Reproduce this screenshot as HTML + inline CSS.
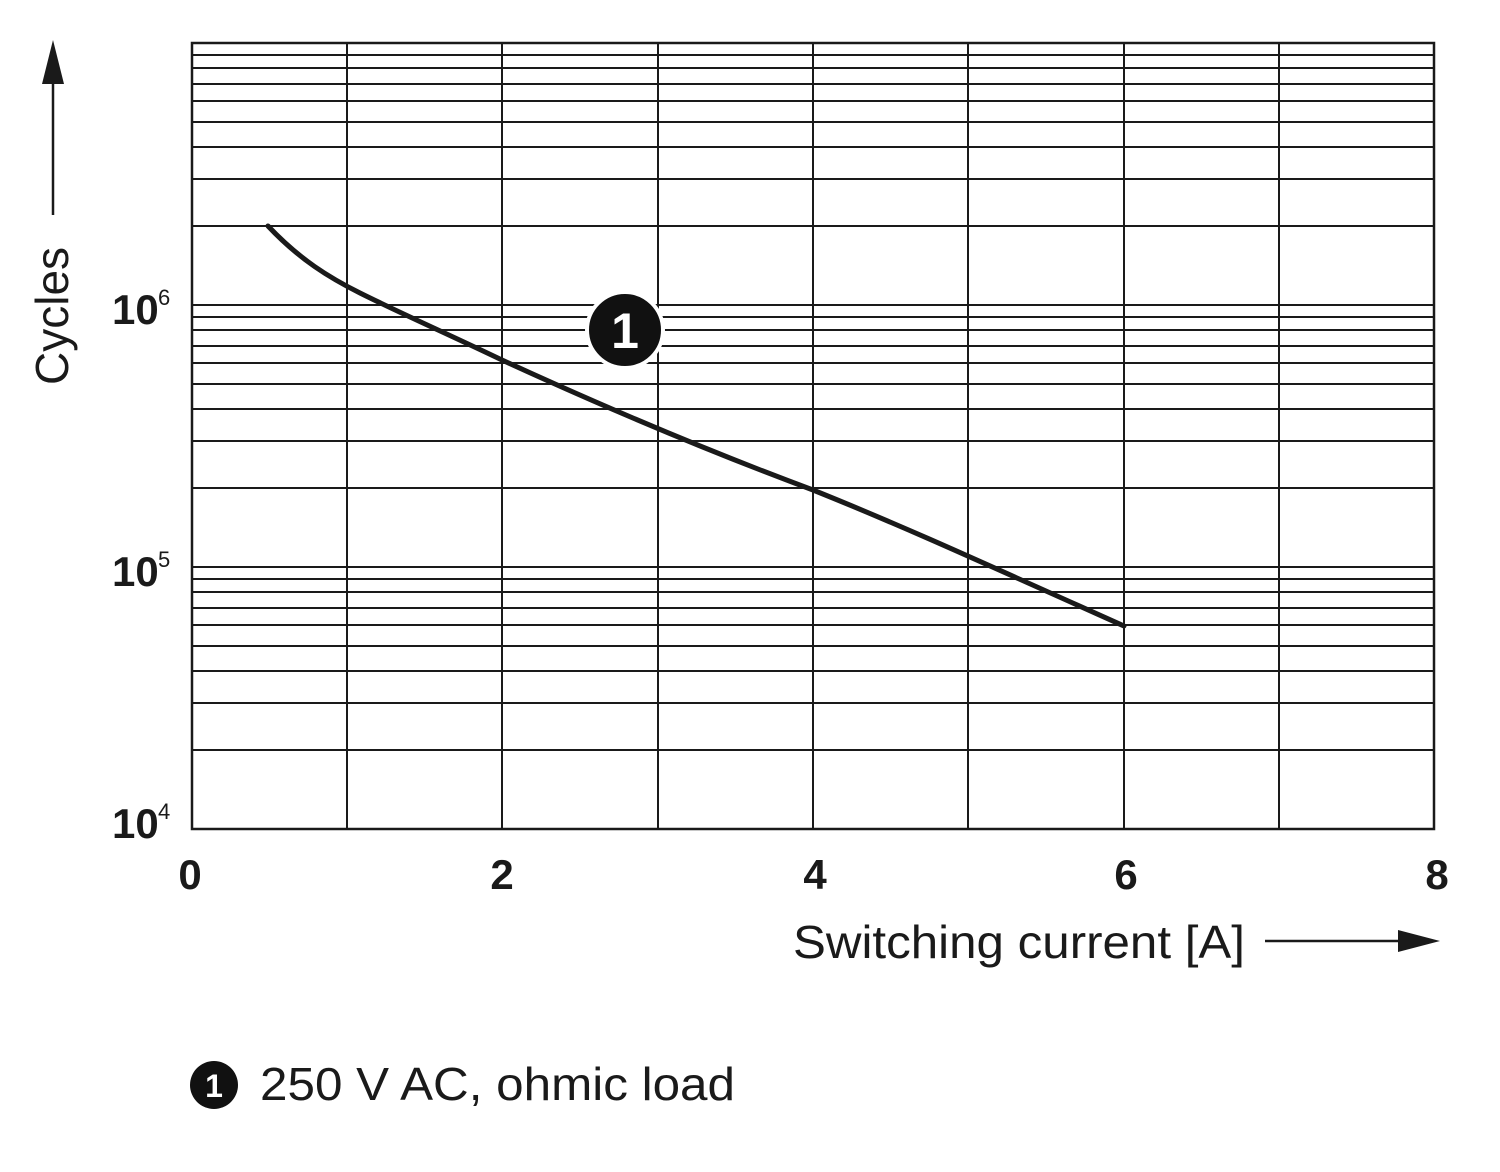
<!DOCTYPE html>
<html><head><style>body{margin:0;background:#fff}svg{display:block}</style></head><body>
<svg width="1500" height="1172" viewBox="0 0 1500 1172" xmlns="http://www.w3.org/2000/svg" font-family="Liberation Sans, Arial, sans-serif">
<g stroke="#1a1a1a" stroke-width="2" fill="none">
<path d="M347 43V829M502 43V829M658 43V829M813 43V829M968 43V829M1124 43V829M1279 43V829"/>
<path d="M192 750H1434M192 703H1434M192 671H1434M192 646H1434M192 625H1434M192 608H1434M192 592H1434M192 579H1434M192 567H1434
M192 488H1434M192 441H1434M192 409H1434M192 384H1434M192 363H1434M192 346H1434M192 330H1434M192 317H1434M192 305H1434
M192 226H1434M192 179H1434M192 147H1434M192 122H1434M192 101H1434M192 84H1434M192 68H1434M192 55H1434"/>
<rect x="192" y="43" width="1242" height="786" stroke-width="2.5"/>
<path d="M268 226 C300 260 330 278 360 293 C400 313 450 335 502 360 C600 405 700 448 813 490 C900 525 968 556 1124 626" stroke-width="5" stroke-linecap="round"/>
</g>
<circle cx="625" cy="330" r="38" fill="#111" stroke="#fff" stroke-width="4"/>
<text x="625" y="348" font-size="50" font-weight="bold" fill="#fff" text-anchor="middle">1</text>
<g font-weight="bold" font-size="42" fill="#1a1a1a">
<text x="190" y="889" text-anchor="middle">0</text>
<text x="502" y="889" text-anchor="middle">2</text>
<text x="815" y="889" text-anchor="middle">4</text>
<text x="1126" y="889" text-anchor="middle">6</text>
<text x="1437" y="889" text-anchor="middle">8</text>
<text x="112" y="324">10</text><text x="158" y="305" font-size="22" font-weight="normal">6</text>
<text x="112" y="586">10</text><text x="158" y="567" font-size="22" font-weight="normal">5</text>
<text x="112" y="838">10</text><text x="158" y="819" font-size="22" font-weight="normal">4</text>
</g>
<text x="793" y="958" font-size="46" textLength="452" lengthAdjust="spacingAndGlyphs" fill="#1a1a1a">Switching current [A]</text>
<path d="M1265 941H1400" stroke="#1a1a1a" stroke-width="2.5"/>
<path d="M1398 930L1440 941L1398 952Z" fill="#1a1a1a"/>
<text transform="translate(68,385) rotate(-90)" font-size="46" fill="#1a1a1a">Cycles</text>
<path d="M53 80V215" stroke="#1a1a1a" stroke-width="2.5"/>
<path d="M42 84L53 40L64 84Z" fill="#1a1a1a"/>
<circle cx="214" cy="1085" r="24" fill="#111"/>
<text x="214" y="1097" font-size="32" font-weight="bold" fill="#fff" text-anchor="middle">1</text>
<text x="260" y="1100" font-size="46" textLength="475" lengthAdjust="spacingAndGlyphs" fill="#1a1a1a">250 V AC, ohmic load</text>
</svg>
</body></html>
